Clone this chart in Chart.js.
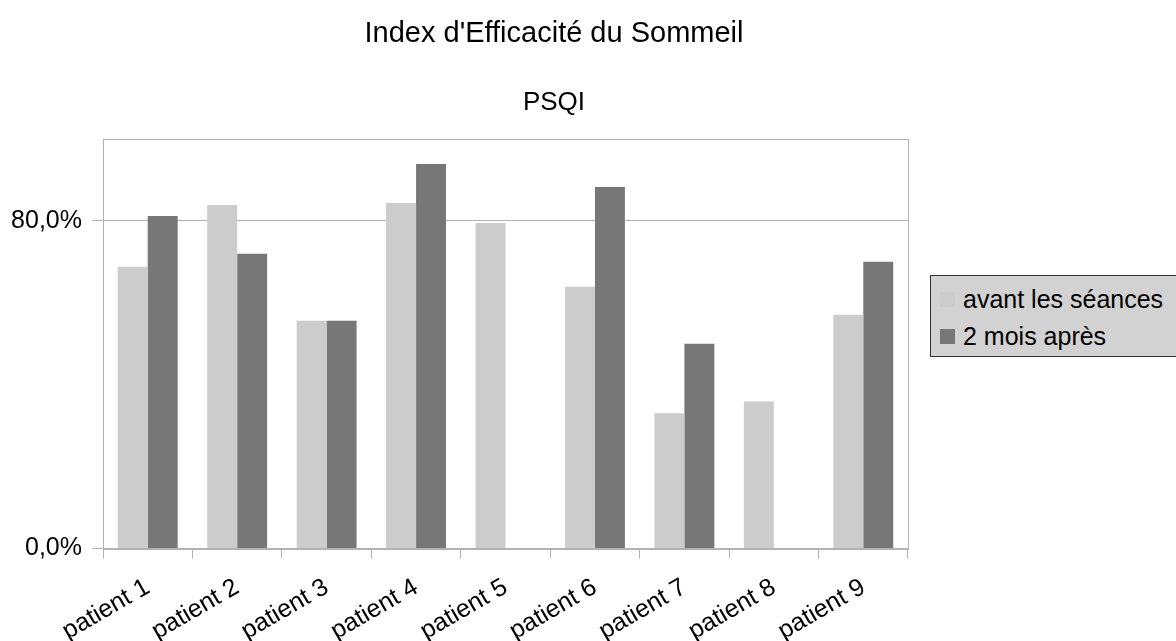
<!DOCTYPE html>
<html>
<head>
<meta charset="utf-8">
<script src="https://cdn.jsdelivr.net/npm/chart.js@4/dist/chart.umd.min.js"></script>
<style>
  html, body { margin: 0; padding: 0; background: #ffffff; overflow: hidden; }
  #wrap { position: relative; width: 1176px; height: 641px; overflow: hidden; }
  #legend {
    position: absolute; left: 930px; top: 275px; width: 270px; height: 82px;
    background: #d2d2d2; border: 1px solid #333333; box-sizing: border-box;
    font-family: 'Liberation Sans', Arial, sans-serif; font-size: 25px; color: #000;
  }
  .item { position: absolute; left: 9px; height: 30px; line-height: 30px; white-space: nowrap; }
  .sw { display: inline-block; width: 15px; height: 15px; vertical-align: middle; margin-right: 8px; position: relative; top: -2px; }
</style>
</head>
<body>
<div id="wrap">
  <canvas id="c" width="1176" height="641"></canvas>
  <div id="legend"></div>
</div>
<script>
const categories = ['patient 1','patient 2','patient 3','patient 4','patient 5','patient 6','patient 7','patient 8','patient 9'];
const seriesNames = ['avant les séances', '2 mois après'];
const avantValues = [68.8, 83.9, 55.6, 84.4, 79.5, 63.9, 33.0, 35.9, 57.1];
const apresValues = [81.2, 72.0, 55.6, 93.9, null, 88.3, 50.0, null, 70.0];
const yTickValues = [0, 80];
const titleText = "Index d'Efficacité du Sommeil";
const subtitleText = 'PSQI';
const colors = ['#cccccc', '#777777'];

const FONT = "'Liberation Sans', Arial, sans-serif";
const GRID = '#b3b3b3';

const framePlugin = {
  id: 'frame',
  beforeDatasetsDraw(chart) {
    const a = chart.chartArea, ctx = chart.ctx;
    ctx.save();
    ctx.strokeStyle = GRID;
    ctx.lineWidth = 1;
    ctx.strokeRect(Math.round(a.left) + 0.5, Math.round(a.top) + 0.5, Math.round(a.right - a.left), Math.round(a.bottom - a.top));
    ctx.restore();
  }
};

const chart = new Chart(document.getElementById('c'), {
  type: 'bar',
  data: {
    labels: categories,
    datasets: [
      { label: seriesNames[0], data: avantValues, backgroundColor: colors[0], borderWidth: 0 },
      { label: seriesNames[1], data: apresValues, backgroundColor: colors[1], borderWidth: 0 }
    ]
  },
  options: {
    responsive: false,
    animation: false,
    devicePixelRatio: 1,
    layout: { padding: { left: 10, right: 78, top: 0, bottom: 0 } },
    datasets: { bar: { categoryPercentage: 0.67, barPercentage: 1.0 } },
    plugins: {
      legend: { display: false },
      tooltip: { enabled: false },
      title: {
        display: true, text: titleText, color: '#000',
        font: { family: FONT, size: 29, weight: 'normal' },
        padding: { top: 17, bottom: 35 }
      },
      subtitle: {
        display: true, text: subtitleText, color: '#000',
        font: { family: FONT, size: 26, weight: 'normal' },
        padding: { top: 0, bottom: 21 }
      }
    },
    scales: {
      x: {
        offset: true,
        afterFit(scale) { scale.height = 92.5; },
        grid: { offset: true, drawOnChartArea: false, drawTicks: true, tickLength: 10, color: GRID },
        border: { display: true, color: GRID },
        ticks: {
          color: '#000', font: { family: FONT, size: 25 },
          minRotation: 30, maxRotation: 30, padding: 14, autoSkip: false
        }
      },
      y: {
        min: 0, max: 100,
        afterBuildTicks(scale) { scale.ticks = yTickValues.map(v => ({ value: v })); },
        afterFit(scale) { scale.width = 93; },
        grid: { color: GRID, tickLength: 11, tickColor: GRID },
        border: { display: true, color: GRID },
        ticks: {
          color: '#000', font: { family: FONT, size: 25 }, padding: 10,
          callback: v => v.toFixed(1).replace('.', ',') + '%'
        }
      },
      legendSpace: {
        type: 'linear', position: 'right', display: true,
        afterFit(scale) { scale.width = 190; },
        grid: { display: false }, border: { display: false },
        ticks: { display: false }
      }
    }
  },
  plugins: [framePlugin]
});

const lg = document.getElementById('legend');
seriesNames.forEach((name, i) => {
  const d = document.createElement('div');
  d.className = 'item';
  d.style.top = (8 + i * 37) + 'px';
  const sw = document.createElement('span');
  sw.className = 'sw';
  sw.style.background = colors[i];
  d.appendChild(sw);
  d.appendChild(document.createTextNode(name));
  lg.appendChild(d);
});
</script>
</body>
</html>
